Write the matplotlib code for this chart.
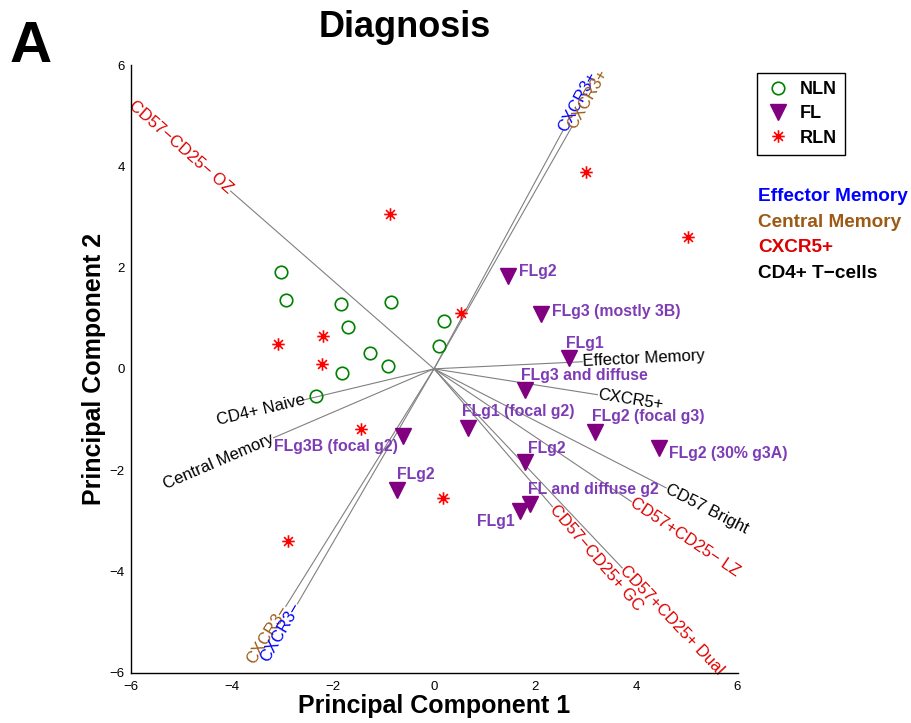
import matplotlib
matplotlib.use('Agg')
import matplotlib.pyplot as plt
import numpy as np
from matplotlib.path import Path

plt.rcParams['font.family'] = ['Liberation Sans', 'DejaVu Sans']

# sample scores (PC1, PC2)
nln_x = [-3.03, -2.93, -1.83, -0.85, -1.71, 0.20, 0.10, -1.26, -0.91, -1.81, -2.34]
nln_y = [1.91, 1.36, 1.28, 1.32, 0.83, 0.95, 0.45, 0.32, 0.06, -0.08, -0.53]

rln_x = [-0.87, 3.01, 5.02, 0.53, -3.09, -2.19, -2.22, -1.44, 0.18, -2.89]
rln_y = [3.06, 3.89, 2.60, 1.10, 0.49, 0.65, 0.10, -1.18, -2.56, -3.39]

fl_x = [1.46, 2.11, 2.66, 1.79, 0.67, 3.19, 4.45, 1.79, 1.89, 1.71, -0.61, -0.73]
fl_y = [1.83, 1.08, 0.22, -0.41, -1.16, -1.24, -1.56, -1.83, -2.66, -2.80, -1.32, -2.39]
fl_labels = ['FLg2', 'FLg3 (mostly 3B)', 'FLg1', 'FLg3 and diffuse', 'FLg1 (focal g2)',
             'FLg2 (focal g3)', 'FLg2 (30% g3A)', 'FLg2', 'FL and diffuse g2', 'FLg1',
             'FLg3B (focal g2)', 'FLg2']
# label placement relative to the marker, in pixels (dx, dy up), alignment
fl_label_pos = [(11, 5, 'left'), (11, 3, 'left'), (-3, 14, 'left'), (-4, 14, 'left'),
                (-6, 16, 'left'), (-3, 15, 'left'), (10, -6, 'left'), (3, 13, 'left'),
                (-2, 14, 'left'), (-6, -11, 'right'), (-5, -11, 'right'), (0, 15, 'left')]

# loading vectors
vec_names = ['CD57\u2212CD25\u2212 OZ', 'CXCR3+', 'CXCR3+', 'CXCR3\u2212', 'CXCR3\u2212',
             'Effector Memory', 'CXCR5+', 'CD57 Bright', 'CD57+CD25\u2212 LZ',
             'CD57+CD25+ Dual', 'CD57\u2212CD25+ GC', 'CD4+ Naive', 'Central Memory']
vec_x = [-4.02, 2.54, 2.72, -2.93, -2.70, 2.93, 3.23, 4.59, 3.90, 3.72, 2.34, -2.56, -3.17]
vec_y = [3.51, 4.69, 4.77, -4.69, -4.64, 0.14, -0.51, -2.35, -2.62, -3.93, -2.72, -0.61, -1.36]
vec_group = ['CXCR5+', 'Effector Memory', 'Central Memory', 'Central Memory', 'Effector Memory',
             'CD4+ T\u2212cells', 'CD4+ T\u2212cells', 'CD4+ T\u2212cells', 'CXCR5+',
             'CXCR5+', 'CXCR5+', 'CD4+ T\u2212cells', 'CD4+ T\u2212cells']

groups = ['Effector Memory', 'Central Memory', 'CXCR5+', 'CD4+ T\u2212cells']
group_colors = {'Effector Memory': '#0000FF', 'Central Memory': '#9C5A14',
                'CXCR5+': '#DD0000', 'CD4+ T\u2212cells': '#000000'}

ticks = [-6, -4, -2, 0, 2, 4, 6]

# MATLAB style '*' marker (plus and cross overlaid)
d = 0.7071
star = Path([(-1, 0), (1, 0), (0, -1), (0, 1), (-d, -d), (d, d), (-d, d), (d, -d)],
            [Path.MOVETO, Path.LINETO] * 4)

W, H = 911, 723
fig = plt.figure(figsize=(W / 100, H / 100), dpi=100)
ax = fig.add_axes([130.5 / W, 1 - 672.7 / H, 607 / W, 607.7 / H])

# vectors
for name, vx, vy, g in zip(vec_names, vec_x, vec_y, vec_group):
    ax.plot([0, vx], [0, vy], color='#808080', lw=0.8, zorder=1)
    ang = np.degrees(np.arctan2(vy, vx))
    if vx >= 0:
        ha, rot = 'left', ang
    else:
        ha, rot = 'right', ang + 180
    ax.text(vx, vy, name, color=group_colors[g], fontsize=12, ha=ha, va='center',
            rotation=rot, rotation_mode='anchor', transform_rotates_text=True, zorder=2)

h_nln, = ax.plot(nln_x, nln_y, ls='none', marker='o', mfc='none', mec='#008000',
                 ms=9, mew=1.2, zorder=3)
h_fl, = ax.plot(fl_x, fl_y, ls='none', marker='v', color='#800080', ms=11, zorder=3)
h_rln, = ax.plot(rln_x, rln_y, ls='none', marker=star, mfc='none', mec='#FF0000',
                 ms=9, mew=1.2, zorder=3)

for lab, x, y, (dx, dy, ha) in zip(fl_labels, fl_x, fl_y, fl_label_pos):
    ax.annotate(lab, (x, y), xytext=(dx, dy), textcoords='offset pixels',
                ha=ha, va='center', color='#7D3CB5', fontsize=11.4, fontweight='bold',
                zorder=4)

ax.set_xlim(-6, 6)
ax.set_ylim(-6, 6)
ax.set_xticks(ticks)
ax.set_yticks(ticks)
ax.set_xticklabels([str(t).replace('-', '\u2212') for t in ticks])
ax.set_yticklabels([str(t).replace('-', '\u2212') for t in ticks])
ax.tick_params(length=0, labelsize=9.5)
ax.tick_params(axis='x', pad=6)
ax.tick_params(axis='y', pad=4)
for s in ['top', 'right']:
    ax.spines[s].set_visible(False)
for s in ['left', 'bottom']:
    ax.spines[s].set_linewidth(1.0)

ax.set_xlabel('Principal Component 1', fontsize=18, fontweight='bold', labelpad=1)
ax.set_ylabel('Principal Component 2', fontsize=18, fontweight='bold', labelpad=3)

fig.text(405 / W, 1 - 36.7 / H, 'Diagnosis', fontsize=26, fontweight='bold',
         ha='center', va='baseline')
fig.text(10 / W, 1 - 62 / H, 'A', fontsize=42, fontweight='bold', ha='left', va='baseline')

leg = ax.legend([h_nln, h_fl, h_rln], ['NLN', 'FL', 'RLN'], loc='upper left',
                bbox_to_anchor=(757 / W, 1 - 73 / H), bbox_transform=fig.transFigure,
                prop=dict(weight='bold', size=13), frameon=True, fancybox=False,
                edgecolor='black', framealpha=1, handlelength=1.4, handletextpad=0.5,
                borderpad=0.45, labelspacing=0.4, borderaxespad=0)
leg.get_frame().set_linewidth(1.0)

for i, g in enumerate(groups):
    fig.text(758 / W, 1 - (197 + 25.5 * i) / H, g, color=group_colors[g], fontsize=13.7,
             fontweight='bold', ha='left', va='center')

fig.savefig('out.png', dpi=100, facecolor='white')
